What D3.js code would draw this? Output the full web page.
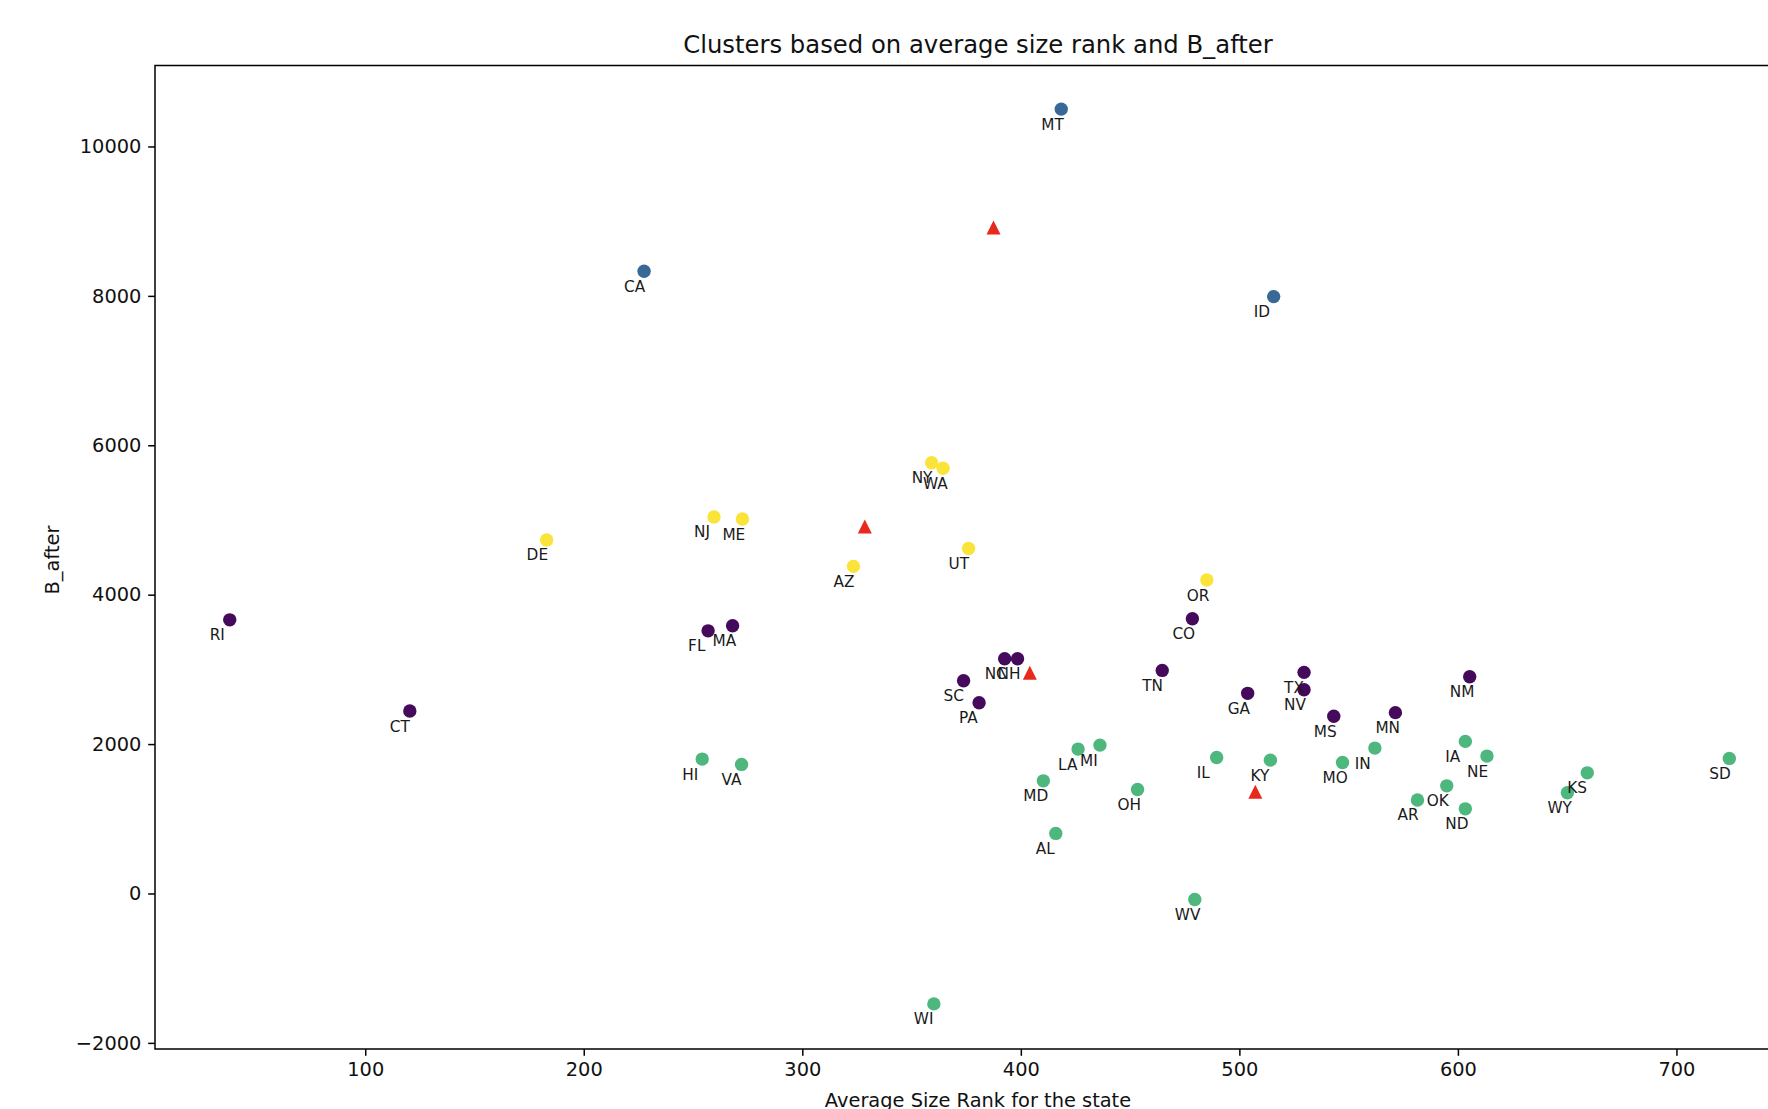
<!DOCTYPE html>
<html>
<head>
<meta charset="utf-8">
<script src="https://cdn.jsdelivr.net/npm/d3@7"></script>
<style>
  html, body { margin: 0; padding: 0; background: #fff; overflow: hidden; }
  svg { display: block; font-family: 'DejaVu Sans', sans-serif; }
</style>
</head>
<body>
<div id="chart"></div>
<script>
// states and their cluster (0 purple, 1 blue, 2 green, 3 yellow)
const states = ['MT', 'CA', 'ID',
  'NY', 'WA', 'NJ', 'ME', 'DE', 'AZ', 'UT', 'OR',
  'RI', 'CT', 'FL', 'MA', 'CO', 'NC', 'NH', 'SC', 'PA', 'TN', 'GA', 'TX', 'NV', 'MS', 'MN', 'NM',
  'HI', 'VA', 'LA', 'MI', 'MD', 'AL', 'OH', 'IL', 'KY', 'MO', 'IN', 'AR', 'OK', 'ND', 'IA', 'NE', 'KS', 'WY', 'SD', 'WV', 'WI'];
const avgRank = [418.5, 227.6, 515.7,
  359.2, 364.4, 259.6, 272.6, 183.0, 323.4, 376.1, 485.1,
  38.0, 120.4, 256.9, 268.1, 478.5, 392.6, 398.5, 373.8, 380.9, 464.7, 503.8, 529.6, 529.6, 543.2, 571.4, 605.4,
  254.2, 272.2, 426.2, 436.2, 410.3, 416.0, 453.4, 489.6, 514.2, 547.2, 562.0, 581.5, 594.9, 603.4, 603.4, 613.3, 659.2, 650.1, 724.2, 479.6, 360.2];
const bAfter = [10500, 8330, 7990,
  5767, 5692, 5040, 5013, 4732, 4379, 4619, 4196,
  3663, 2442, 3516, 3583, 3678, 3142, 3142, 2847, 2553, 2986, 2679, 2960, 2727, 2372, 2421, 2901,
  1799, 1728, 1933, 1986, 1508, 804, 1392, 1821, 1785, 1754, 1946, 1252, 1441, 1133, 2036, 1839, 1615, 1348, 1808, -80, -1478];
const cluster = [1, 1, 1,
  3, 3, 3, 3, 3, 3, 3, 3,
  0, 0, 0, 0, 0, 0, 0, 0, 0, 0, 0, 0, 0, 0, 0, 0,
  2, 2, 2, 2, 2, 2, 2, 2, 2, 2, 2, 2, 2, 2, 2, 2, 2, 2, 2, 2, 2];

// cluster centres (red triangles)
const centroidX = [387.5, 328.6, 404.1, 507.3];
const centroidY = [8914, 4914, 2955, 1361];

const xTicks = [100, 200, 300, 400, 500, 600, 700];
const yTicks = [-2000, 0, 2000, 4000, 6000, 8000, 10000];

const data = states.map((s, i) => ({
  state: s,
  rank: avgRank[i],
  b: bAfter[i],
  cluster: cluster[i],
}));
const centroids = centroidX.map((x, i) => ({ x, y: centroidY[i] }));

function createScatterPlot() {
  const width = 1768;
  const height = 1109;

  // the axes run past the right edge of the picture
  const margin = { top: 65.5, left: 155, right: 1801, bottom: 1049 };

  const svg = d3
    .select('#chart')
    .append('svg')
    .attr('width', width)
    .attr('height', height);

  const xScale = d3.scaleLinear().domain([3.8, 757]).range([margin.left, margin.right]);
  const yScale = d3.scaleLinear().domain([-2082, 11084]).range([margin.bottom, margin.top]);

  // viridis, slightly washed like the screenshot
  const color = d3
    .scaleOrdinal()
    .domain([0, 1, 2, 3])
    .range(['#450a5c', '#386895', '#4db77d', '#fbe43a']);

  // Title
  svg.append('text')
    .attr('x', (margin.left + margin.right) / 2)
    .attr('y', 53.3)
    .attr('text-anchor', 'middle')
    .style('font-size', '24.3px')
    .style('fill', '#111')
    .text('Clusters based on average size rank and B_after');

  // X axis
  const xAxis = svg
    .append('g')
    .attr('transform', `translate(0, ${margin.bottom})`)
    .call(d3.axisBottom(xScale).tickValues(xTicks).tickSize(6.8).tickPadding(6.8).tickSizeOuter(0));

  // Y axis
  const yAxis = svg
    .append('g')
    .attr('transform', `translate(${margin.left}, 0)`)
    .call(d3.axisLeft(yScale).tickValues(yTicks).tickSize(6.8).tickPadding(6.8).tickSizeOuter(0)
      .tickFormat((d) => (d < 0 ? '\u2212' + Math.abs(d) : String(d))));

  [xAxis, yAxis].forEach((ax) => {
    ax.select('.domain').remove();
    ax.selectAll('line').attr('stroke', '#000').attr('stroke-width', 1.5);
    ax.selectAll('text')
      .style('font-family', "'DejaVu Sans', sans-serif")
      .style('font-size', '19.4px')
      .style('fill', '#111');
  });

  // spines
  svg.append('rect')
    .attr('x', margin.left)
    .attr('y', margin.top)
    .attr('width', margin.right - margin.left)
    .attr('height', margin.bottom - margin.top)
    .attr('fill', 'none')
    .attr('stroke', '#000')
    .attr('stroke-width', 1.5);

  // axis labels
  svg.append('text')
    .attr('x', (margin.left + margin.right) / 2)
    .attr('y', 1107)
    .attr('text-anchor', 'middle')
    .style('font-size', '19.4px')
    .style('fill', '#111')
    .text('Average Size Rank for the state');

  svg.append('text')
    .attr('transform', 'translate(59, 560) rotate(-90)')
    .attr('text-anchor', 'middle')
    .style('font-size', '19.4px')
    .style('fill', '#111')
    .text('B_after');

  // state dots
  svg.append('g')
    .attr('class', 'dots')
    .selectAll('circle')
    .data(data)
    .join('circle')
    .attr('cx', (d) => xScale(d.rank))
    .attr('cy', (d) => yScale(d.b))
    .attr('r', 6.7)
    .attr('fill', (d) => color(d.cluster));

  // state labels
  svg.append('g')
    .attr('class', 'labels')
    .selectAll('text')
    .data(data)
    .join('text')
    .attr('x', (d) => xScale(d.rank) - 20)
    .attr('y', (d) => yScale(d.b) + 20.5)
    .style('font-size', '15.3px')
    .style('fill', '#1a1a1a')
    .text((d) => d.state);

  // matplotlib style '^' marker: square bounding box centred on the point
  const triangle = {
    draw(context, size) {
      const h = Math.sqrt(size) / 2;
      context.moveTo(0, -h);
      context.lineTo(h, h);
      context.lineTo(-h, h);
      context.closePath();
    },
  };

  svg.append('g')
    .attr('class', 'centroids')
    .selectAll('path')
    .data(centroids)
    .join('path')
    .attr('transform', (d) => `translate(${xScale(d.x)}, ${yScale(d.y)})`)
    .attr('d', d3.symbol().type(triangle).size(14 * 14))
    .attr('fill', '#e8291c');
}

createScatterPlot();
</script>
</body>
</html>
